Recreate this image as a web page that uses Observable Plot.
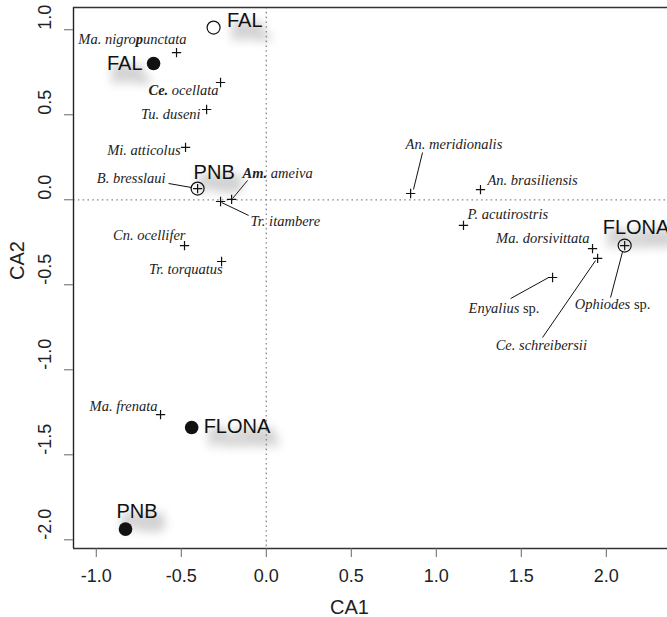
<!DOCTYPE html>
<html><head><meta charset="utf-8">
<script src="https://cdn.jsdelivr.net/npm/d3@7"></script>
<script src="https://cdn.jsdelivr.net/npm/@observablehq/plot@0.6"></script>
<style>body{margin:0;background:#fff} svg{display:block}</style>
</head><body><div id="chart"></div>
<script>
// ---- data ----
const species = ["Ma. nigropunctata","Ce. ocellata","Tu. duseni","Mi. atticolus","B. bresslaui","Am. ameiva","Tr. itambere","Cn. ocellifer","Tr. torquatus","Ma. frenata","An. meridionalis","An. brasiliensis","P. acutirostris","Ma. dorsivittata","Ce. schreibersii","Enyalius sp.","Ophiodes sp."];
const speciesCA1 = [-0.528,-0.269,-0.351,-0.475,-0.404,-0.204,-0.269,-0.481,-0.263,-0.622,0.849,1.26,1.16,1.919,1.949,1.684,2.108];
const speciesCA2 = [0.866,0.69,0.531,0.308,0.066,0.002,-0.01,-0.269,-0.363,-1.263,0.037,0.06,-0.151,-0.287,-0.345,-0.457,-0.269];

const siteNames = ["FAL","PNB","FLONA"];
const openSiteCA1 = [-0.31,-0.404,2.108];
const openSiteCA2 = [1.013,0.066,-0.269];
const filledSiteCA1 = [-0.663,-0.828,-0.439];
const filledSiteCA2 = [0.802,-1.937,-1.339];

const xTicks = [-1.0,-0.5,0.0,0.5,1.0,1.5,2.0];
const yTicks = [-2.0,-1.5,-1.0,-0.5,0.0,0.5,1.0];
const xTitle = "CA1", yTitle = "CA2";

// leader segments (label end -> species), in CA units
const leaderNames = ["B. bresslaui","Am. ameiva","Tr. itambere","An. meridionalis","Enyalius sp.","Ce. schreibersii","Ophiodes sp."];
const leaderX1 = [-0.575,-0.11,-0.263,0.919,1.437,1.625,2.025];
const leaderY1 = [0.096,0.114,-0.016,0.278,-0.581,-0.81,-0.575];
const leaderX2 = [-0.439,-0.198,-0.104,0.866,1.661,1.937,2.096];
const leaderY2 = [0.072,0.008,-0.092,0.061,-0.457,-0.357,-0.304];

// ---- layout (label offsets in px) ----
const speciesLayout = [
  ["end",10,-13],["end",-2,7.5],["end",-6,4.5],["end",-5,2.5],["end",-32,-10.5],
  ["start",11,-26.5],["start",30,19.5],["end",1,-10.5],["end",1,7.5],["end",-3,-8.5],
  ["start",-5,-49.5],["start",7,-9.5],["start",4,-11.5],["end",-3,-10.5],
  ["start",-102,86.5],["start",-84,30.5],["start",-50,58.5]
];
const openLayout = [["start",13.4,-7],["start",-4,-16],["start",-22,-18]];
const filledLayout = [["end",-11,0],["start",-9,-18],["start",12,-1]];

const speciesData = species.map((s,i)=>({name:s,x:speciesCA1[i],y:speciesCA2[i]}));
const openSites = siteNames.map((s,i)=>({name:s,x:openSiteCA1[i],y:openSiteCA2[i]}));
const filledSites = siteNames.map((s,i)=>({name:s,x:filledSiteCA1[i],y:filledSiteCA2[i]}));
const leaders = leaderNames.map((s,i)=>({name:s,x1:leaderX1[i],y1:leaderY1[i],x2:leaderX2[i],y2:leaderY2[i]}));

const xDomain = [-1.134, 2.36];
const yDomain = [-2.051, 1.131];

const SERIF = "'Liberation Serif','Times New Roman',serif";
const SANS = "'Liberation Sans',Arial,Helvetica,sans-serif";
const SHADOW = "#7a7a7a";

const siteLabelMarks = (sites, layout) => sites.flatMap((d,i)=>[
  Plot.text([d], {x:"x", y:"y", text:"name", textAnchor:layout[i][0], dx:layout[i][1]+6, dy:layout[i][2]+11,
    fontSize:20, fontFamily:SANS, fill:SHADOW, stroke:SHADOW, strokeWidth:6, lineAnchor:"middle"}),
  Plot.text([d], {x:"x", y:"y", text:"name", textAnchor:layout[i][0], dx:layout[i][1], dy:layout[i][2],
    fontSize:20, fontFamily:SANS, fill:"#111", lineAnchor:"middle"})
]);

const plot = Plot.plot({
  width: 667, height: 617,
  marginLeft: 73, marginRight: 0, marginTop: 7, marginBottom: 69,
  x: {domain: xDomain},
  y: {domain: yDomain},
  style: {background: "white", fontFamily: SANS},
  marks: [
    Plot.ruleX([0], {stroke:"#8a8a8a", strokeDasharray:"1.6,3.2", strokeWidth:1.3}),
    Plot.ruleY([0], {stroke:"#8a8a8a", strokeDasharray:"1.6,3.2", strokeWidth:1.3}),
    Plot.ruleX([xDomain[0]], {stroke:"#222", strokeWidth:1.4}),
    Plot.ruleY(yDomain, {stroke:"#333", strokeWidth:1.4}),
    Plot.axisX({ticks:xTicks, tickSize:9, tickPadding:12, tickFormat:d=>d.toFixed(1), fontSize:18, label:null, stroke:"#666", fill:"#222"}),
    Plot.axisY({ticks:yTicks, tickSize:9, tickFormat:()=>"", label:null, stroke:"#666"}),
    Plot.text(yTicks, {y:d=>d, text:d=>d.toFixed(1), frameAnchor:"left", dx:-28, rotate:-90, fontSize:18, fill:"#222", lineAnchor:"middle"}),
    Plot.text([xTitle], {frameAnchor:"bottom", text:d=>d, dx:-21, dy:59, fontSize:20, fill:"#222", lineAnchor:"middle"}),
    Plot.text([yTitle], {frameAnchor:"left", text:d=>d, dx:-56, dy:2, rotate:-90, fontSize:20, fill:"#222", lineAnchor:"middle"}),
    Plot.link(leaders, {x1:"x1", y1:"y1", x2:"x2", y2:"y2", stroke:"#111", strokeWidth:1}),
    ...siteLabelMarks(openSites, openLayout),
    ...siteLabelMarks(filledSites, filledLayout),
    Plot.dot(speciesData, {x:"x", y:"y", symbol:"plus", r:3.1, stroke:"#111", strokeWidth:1.2}),
    Plot.dot(openSites, {x:"x", y:"y", r:6.5, stroke:"#111", fill:"none", strokeWidth:1.2}),
    Plot.dot(filledSites, {x:"x", y:"y", r:6.8, fill:"#111", stroke:"none"}),
    ...speciesData.map((d,i)=>Plot.text([d], {x:"x", y:"y", text:"name", textAnchor:speciesLayout[i][0],
      dx:speciesLayout[i][1], dy:speciesLayout[i][2], fontSize:14.5, fontFamily:SERIF, fontStyle:"italic", fill:"#222", lineAnchor:"middle"}))
  ]
});
document.getElementById("chart").appendChild(plot);

// blur the label shadows
d3.select(plot).selectAll(`g[fill="${SHADOW}"]`).style("filter","blur(5px)").style("opacity","0.33");

// bold genus / roman "sp." formatting
const parts = {
  "Ce. ocellata": [["Ce.","b"],[" ocellata",""]],
  "Am. ameiva": [["Am.","b"],[" ameiva",""]],
  "Ma. nigropunctata": [["Ma. nigro",""],["p","b"],["unctata",""]],
  "Enyalius sp.": [["Enyalius",""],[" sp.","r"]],
  "Ophiodes sp.": [["Ophiodes",""],[" sp.","r"]]
};
d3.select(plot).selectAll('g[font-style="italic"] text').each(function(){
  const t = d3.select(this); const p = parts[t.text()];
  if (!p) return;
  t.text("");
  for (const [s,k] of p) {
    const ts = t.append("tspan").text(s);
    if (k==="b") ts.attr("font-weight","bold");
    if (k==="r") ts.attr("font-style","normal");
  }
});
</script>
</body></html>
